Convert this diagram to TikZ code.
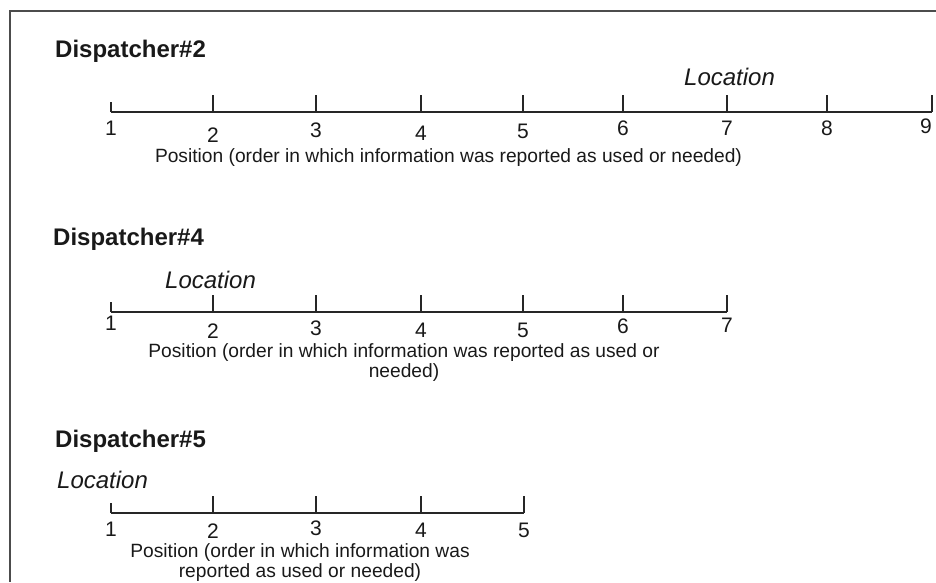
\documentclass[tikz,border=0pt]{standalone}
\usepackage{fontspec}
\setmainfont{Liberation Sans}
\begin{document}
\begin{tikzpicture}[x=1pt,y=-1pt,
  title/.style={font=\fontsize{24}{28}\selectfont\bfseries, anchor=base west, inner sep=0pt, text=black!90},
  loc/.style={font=\fontsize{24}{28}\selectfont\itshape, anchor=base west, inner sep=0pt, text=black!90},
  num/.style={font=\fontsize{21}{24}\selectfont, anchor=base, inner sep=0pt, text=black!90},
  postext/.style={font=\fontsize{19.2}{20}\selectfont, anchor=base, inner sep=0pt, align=center, text=black!90},
  axisline/.style={line width=1.6pt, draw=black!85},
  tickline/.style={line width=1.6pt, draw=black!85},
  frameline/.style={line width=1.6pt, draw=black!70}]
\useasboundingbox (0,0) rectangle (936,582);
% frame
\coordinate (ftl) at (10,11);
\coordinate (ftr) at (936,11);
\coordinate (fbl) at (10,582);
\draw[frameline] (ftr) -- (ftl) -- (fbl);

% ---------- Dispatcher#2 ----------
\node[title] (t2) at (55,57) {Dispatcher\#2};
\node[loc] (l2) at (684,85) {Location};
\foreach \x/\b/\nx [count=\i] in {111/135/111,213/142/213,316/137/316,421/140/421,523/138/523,623/135/623,727/135/727,827/135/827,932/133/926}{
  \coordinate (a2t\i) at (\x,112);
  \pgfmathsetmacro\th{ifthenelse(\i==1,10,17)}
  \draw[tickline] (a2t\i) -- ++(0,-\th);
  \node[num] (a2n\i) at (\nx,\b) {\i};
}
\draw[axisline] (a2t1) -- (a2t9);
\node[postext] (p2) at (448.5,162) {Position (order in which information was reported as used or needed)};

% ---------- Dispatcher#4 ----------
\node[title] (t4) at (53,245) {Dispatcher\#4};
\node[loc] (l4) at (165,288) {Location};
\foreach \x/\b [count=\i] in {111/330,213/338,316/335,421/337,523/337,623/333,727/332}{
  \coordinate (a4t\i) at (\x,312);
  \pgfmathsetmacro\th{ifthenelse(\i==1,10,17)}
  \draw[tickline] (a4t\i) -- ++(0,-\th);
  \node[num] (a4n\i) at (\x,\b) {\i};
}
\draw[axisline] (a4t1) -- (a4t7);
\node[postext] (p4) at (404,377) {Position (order in which information was reported as used or\\needed)};

% ---------- Dispatcher#5 ----------
\node[title] (t5) at (55,447) {Dispatcher\#5};
\node[loc] (l5) at (57,488) {Location};
\foreach \x/\b [count=\i] in {111/536,213/538,316/535,421/537,524/537}{
  \coordinate (a5t\i) at (\x,513);
  \pgfmathsetmacro\th{ifthenelse(\i==1,10,17)}
  \draw[tickline] (a5t\i) -- ++(0,-\th);
  \node[num] (a5n\i) at (\x,\b) {\i};
}
\draw[axisline] (a5t1) -- (a5t5);
\node[postext] (p5) at (300,577) {Position (order in which information was\\reported as used or needed)};
\end{tikzpicture}
\end{document}
